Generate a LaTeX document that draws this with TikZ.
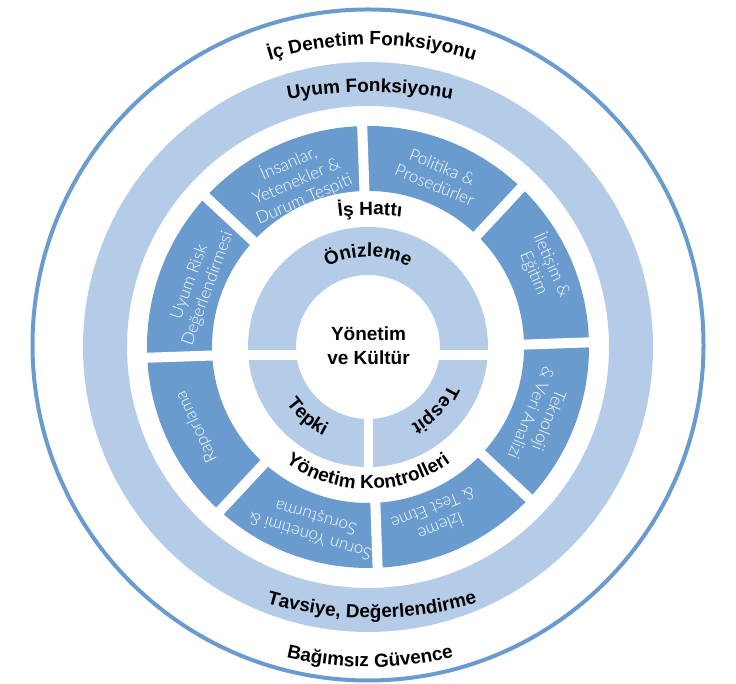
\documentclass[tikz,border=0pt]{standalone}
\usepackage{fontspec}
\setmainfont{Liberation Sans}
\newfontfamily\segfont{Lato Light}
\usetikzlibrary{decorations.text}
\definecolor{darkseg}{RGB}{106,155,207}
\definecolor{lightband}{RGB}{181,204,232}
\newcommand\lblfnt{\bfseries\fontsize{19}{23}\selectfont}
\begin{document}
\begin{tikzpicture}[x=1pt,y=1pt,
  seg/.style={text=white, font=\segfont\fontsize{17}{19.5}\selectfont, align=center, inner sep=0pt},
  lbl/.style={font=\lblfnt, align=center, inner sep=0pt},
  arctext/.style={decorate, decoration={text along path, text align=center, text={|\lblfnt|#1}}}
]
\useasboundingbox (0,0) rectangle (736,684);
\coordinate (C) at (368,337);
\coordinate (O) at (368,339);
\coordinate (D) at (370,334);
% outer circle
\draw[darkseg, line width=4] (O) circle[radius=335.5];
% compliance band
\fill[lightband, even odd rule] (C) circle[radius=285] (C) circle[radius=241];
% dark segment ring
\fill[darkseg, even odd rule] (C) circle[radius=221] (C) circle[radius=156];
\foreach \a in {2,47,...,317} \draw[white, line width=10] (D) ++(\a:148) -- ++(\a:80);
% inner light ring
\fill[lightband, even odd rule] (C) circle[radius=120] (C) circle[radius=72];
\fill[white] (240,324) rectangle (500,334);
\fill[white] (364,209) rectangle (373,330);

% segment texts
\node[seg, rotate=-66] (s1) at ([shift={(24:192)}]C) {İletişim \&\\Eğitim};
\node[seg, rotate=-22.4] (s2) at ([shift={(67.6:185)}]C) {Politika \&\\Prosedürler};
\node[seg, rotate=23.4] (s3) at ([shift={(113.4:181)}]C) {İnsanlar,\\Yetenekler \&\\Durum Tespiti};
\node[seg, rotate=70] (s4) at ([shift={(160:180)}]C) {Uyum Risk\\Değerlendirmesi};
\node[seg, rotate=115] (s5) at ([shift={(205:189)}]C) {Raporlama};
\node[seg, rotate=163] (s6) at ([shift={(253:187)}]C) {Sorun Yönetimi \&\\Soruşturma};
\node[seg, rotate=202] (s7) at ([shift={(292:185)}]C) {İzleme\\\& Test Etme};
\node[seg, rotate=248] (s8) at ([shift={(338:186)}]C) {Teknoloji\\\& Veri Analizi};

% centre
\node[lbl, font=\bfseries\fontsize{19}{24}\selectfont] (yk) at (368.5,338) {Yönetim\\ve Kültür};

% curved labels
\path[arctext={İç Denetim Fonksiyonu}] (372,289) ++(112:350) arc[start angle=112, end angle=68, radius=350];
\path[arctext={Uyum Fonksiyonu}] (370,142) ++(104:450) arc[start angle=104, end angle=76, radius=450];
\path[arctext={İş Hattı}] (370,209) ++(102:260) arc[start angle=102, end angle=78, radius=260];
\path[arctext={Önizleme}] (C) ++(125:90) arc[start angle=125, end angle=55, radius=90];
\path[arctext={Tespit}] (C) ++(-17:89) arc[start angle=-17, end angle=-69, radius=89];
\path[arctext={Tepki}] (C) ++(208:99) arc[start angle=208, end angle=250, radius=99];
\path[arctext={Yönetim Kontrolleri}] (C) ++(225:142) arc[start angle=225, end angle=315, radius=142];
\path[arctext={Tavsiye, Değerlendirme}] (372,446) ++(250:380) arc[start angle=250, end angle=290, radius=380];
\path[arctext={Bağımsız Güvence}] (370,377) ++(253:360) arc[start angle=253, end angle=287, radius=360];
\end{tikzpicture}
\end{document}
